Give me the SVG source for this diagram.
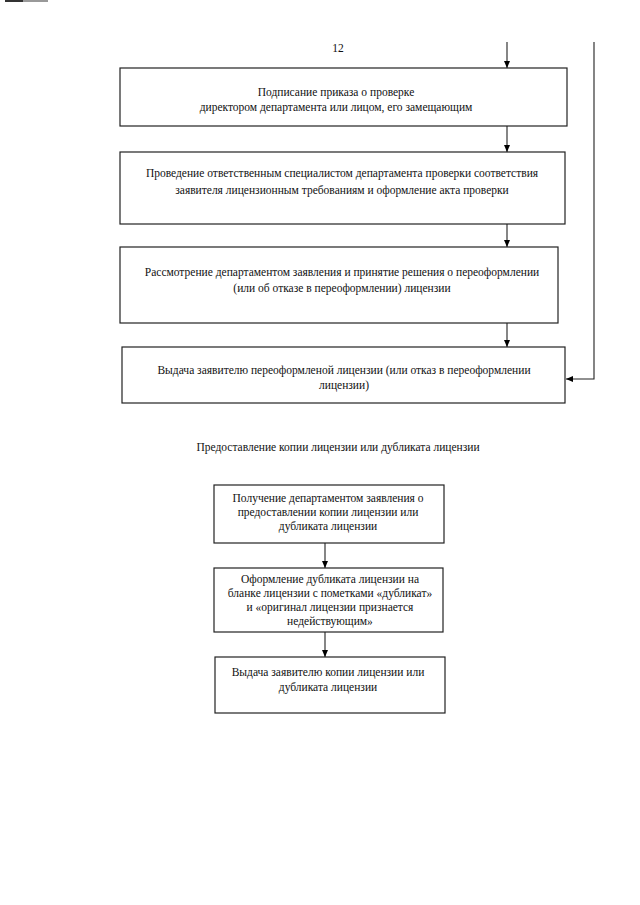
<svg xmlns="http://www.w3.org/2000/svg" width="640" height="905" viewBox="0 0 640 905">
<defs>
<marker id="ah" markerWidth="8" markerHeight="8" refX="7" refY="4" orient="auto" markerUnits="userSpaceOnUse">
<path d="M0,1 L7,4 L0,7 Z" fill="#000"/>
</marker>
<style>
.box{fill:#fff;stroke:#222;stroke-width:1.2}
.t{font-family:"Liberation Serif","Times New Roman",serif;font-size:11.5px;fill:#111;text-anchor:middle}
.c{fill:none;stroke:#222;stroke-width:1.1}
</style>
</defs>
<rect width="640" height="905" fill="#fff"/>
<rect x="5" y="0" width="18" height="2" fill="#333"/>
<rect x="23" y="0" width="25" height="2" fill="#999"/>
<text class="t" x="338" y="52" font-size="14">12</text>
<g id="connectors">
<line class="c" x1="507" y1="42" x2="507" y2="68" marker-end="url(#ah)"/>
<polyline class="c" points="594,42 594,379 566,379" marker-end="url(#ah)"/>
<line class="c" x1="507" y1="126" x2="507" y2="152" marker-end="url(#ah)"/>
<line class="c" x1="507" y1="224" x2="507" y2="247" marker-end="url(#ah)"/>
<line class="c" x1="507" y1="323" x2="507" y2="347" marker-end="url(#ah)"/>
<line class="c" x1="325" y1="543" x2="325" y2="568" marker-end="url(#ah)"/>
<line class="c" x1="325" y1="632" x2="325" y2="657" marker-end="url(#ah)"/>
</g>
<g id="n1">
<rect class="box" x="120" y="68" width="447" height="58"/>
<text class="t" x="336" y="96">Подписание приказа о проверке</text>
<text class="t" x="336" y="111">директором департамента или лицом, его замещающим</text>
</g>
<g id="n2">
<rect class="box" x="120" y="152" width="445" height="72"/>
<text class="t" x="342" y="177">Проведение ответственным специалистом департамента проверки соответствия</text>
<text class="t" x="342" y="194">заявителя лицензионным требованиям и оформление акта проверки</text>
</g>
<g id="n3">
<rect class="box" x="120" y="247" width="438" height="76"/>
<text class="t" x="342" y="276">Рассмотрение департаментом заявления и принятие решения о переоформлении</text>
<text class="t" x="342" y="292">(или об отказе в переоформлении) лицензии</text>
</g>
<g id="n4">
<rect class="box" x="122" y="347" width="443" height="56"/>
<text class="t" x="344" y="374">Выдача заявителю переоформленой лицензии (или отказ в переоформлении</text>
<text class="t" x="344" y="389">лицензии)</text>
</g>
<text class="t" x="338" y="451" font-size="12">Предоставление копии лицензии или дубликата лицензии</text>
<g id="n5">
<rect class="box" x="214" y="485" width="230" height="58"/>
<text class="t" x="328" y="502">Получение департаментом заявления о</text>
<text class="t" x="328" y="516">предоставлении копии лицензии или</text>
<text class="t" x="328" y="530">дубликата лицензии</text>
</g>
<g id="n6">
<rect class="box" x="214" y="568" width="229" height="64"/>
<text class="t" x="330" y="583">Оформление дубликата лицензии на</text>
<text class="t" x="330" y="597">бланке лицензии с пометками «дубликат»</text>
<text class="t" x="330" y="611">и «оригинал лицензии признается</text>
<text class="t" x="330" y="625">недействующим»</text>
</g>
<g id="n7">
<rect class="box" x="215" y="657" width="230" height="56"/>
<text class="t" x="328" y="676">Выдача заявителю копии лицензии или</text>
<text class="t" x="328" y="691">дубликата лицензии</text>
</g>
</svg>
